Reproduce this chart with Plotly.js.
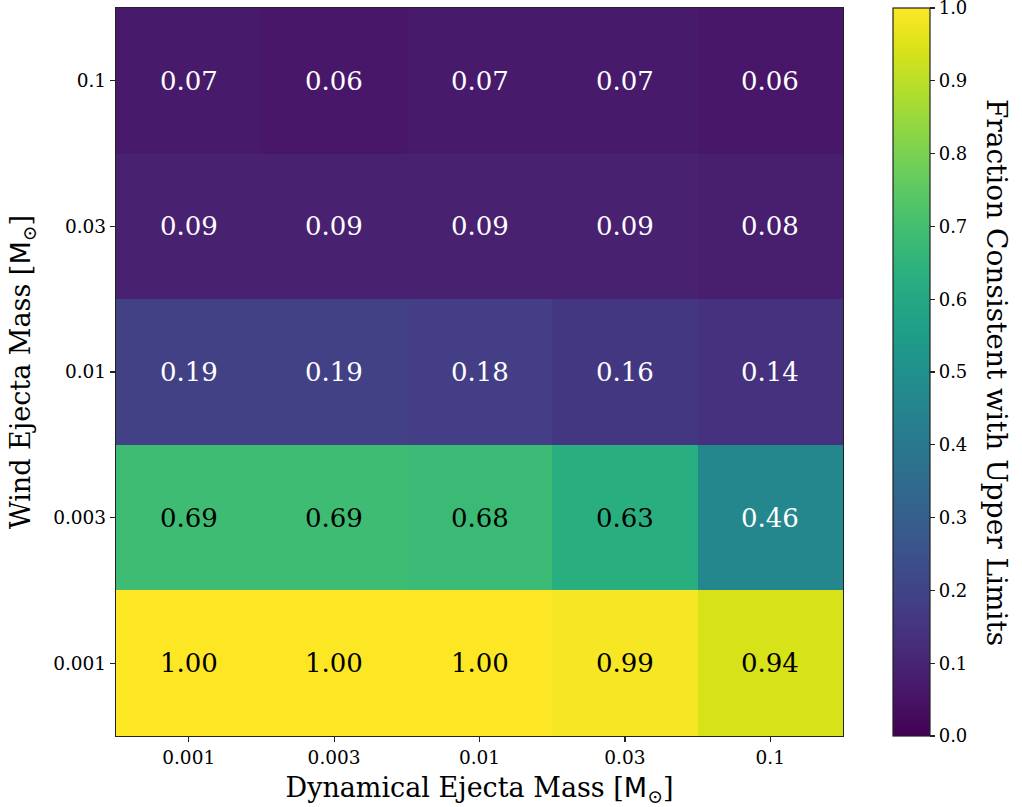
<!DOCTYPE html>
<html><head><meta charset="utf-8">
<script src="https://cdn.plot.ly/plotly-3.0.1.min.js"></script>
<style>body{margin:0;background:#fff}#c{width:1022px;height:807px}</style>
</head><body><div id="c"></div>
<script>
const dynLabels = ["0.001","0.003","0.01","0.03","0.1"];
const windLabels = ["0.001","0.003","0.01","0.03","0.1"];
// rows: wind mass (bottom to top), cols: dynamical mass
const row_w0001 = [1.00, 1.00, 1.00, 0.99, 0.94];
const row_w0003 = [0.69, 0.69, 0.68, 0.63, 0.46];
const row_w001  = [0.19, 0.19, 0.18, 0.16, 0.14];
const row_w003  = [0.09, 0.09, 0.09, 0.09, 0.08];
const row_w01   = [0.07, 0.06, 0.07, 0.07, 0.06];
const cbTickVals = [0,0.1,0.2,0.3,0.4,0.5,0.6,0.7,0.8,0.9,1.0];
const cbTickText = ['0.0','0.1','0.2','0.3','0.4','0.5','0.6','0.7','0.8','0.9','1.0'];
const z = [row_w0001,row_w0003,row_w001,row_w003,row_w01];
const idx = [0,1,2,3,4];
const F = "DejaVu Serif";
const MSUN = '[<span style="font-family:\'DejaVu Sans\'">M</span><sub>⊙</sub>]';
const ann = [];
z.forEach((row,i)=>row.forEach((v,j)=>{
  ann.push({x:j,y:i,xref:'x',yref:'y',text:v.toFixed(2),showarrow:false,
    font:{family:F,size:26,color:v<0.5?'#ffffff':'#000000'}});
}));
ann.push({xref:'paper',yref:'paper',x:1.212,y:0.5,xanchor:'center',yanchor:'middle',
  text:'Fraction Consistent with Upper Limits',textangle:90,showarrow:false,
  font:{family:F,size:28,color:'#000'}});
Plotly.newPlot('c',[{
  type:'heatmap',x:idx,y:idx,z:z,zmin:0,zmax:1,colorscale:'Viridis',
  showscale:true,hoverinfo:'skip',
  colorbar:{x:1.069,xanchor:'left',xpad:0,y:0.5,yanchor:'middle',ypad:0,len:1,lenmode:'fraction',
    thickness:37,thicknessmode:'pixels',outlinewidth:1.2,outlinecolor:'#222',
    tickmode:'array',tickvals:cbTickVals,ticktext:cbTickText,ticklabeloverflow:'allow',
    ticks:'outside',ticklen:5,tickwidth:1.2,tickcolor:'#222',
    tickfont:{family:F,size:18,color:'#000'}}
}],{
  width:1022,height:807,margin:{l:116,r:179,t:8,b:71},
  paper_bgcolor:'#fff',plot_bgcolor:'#fff',
  xaxis:{tickmode:'array',tickvals:idx,ticktext:dynLabels,range:[-0.5,4.5],
    ticks:'outside',ticklen:5,tickwidth:1.2,tickcolor:'#222',showgrid:false,zeroline:false,
    showline:true,mirror:true,linecolor:'#222',linewidth:1.2,
    tickfont:{family:F,size:18.5,color:'#000'},
    title:{text:'Dynamical Ejecta Mass '+MSUN,font:{family:F,size:27,color:'#000'},standoff:12}},
  yaxis:{tickmode:'array',tickvals:idx,ticktext:windLabels,range:[-0.5,4.5],
    ticks:'outside',ticklen:5,tickwidth:1.2,tickcolor:'#222',showgrid:false,zeroline:false,
    showline:true,mirror:true,linecolor:'#222',linewidth:1.2,
    tickfont:{family:F,size:18.5,color:'#000'},
    title:{text:'Wind Ejecta Mass '+MSUN,font:{family:F,size:27,color:'#000'},standoff:14}},
  annotations:ann
},{displayModeBar:false,staticPlot:true});
</script></body></html>
